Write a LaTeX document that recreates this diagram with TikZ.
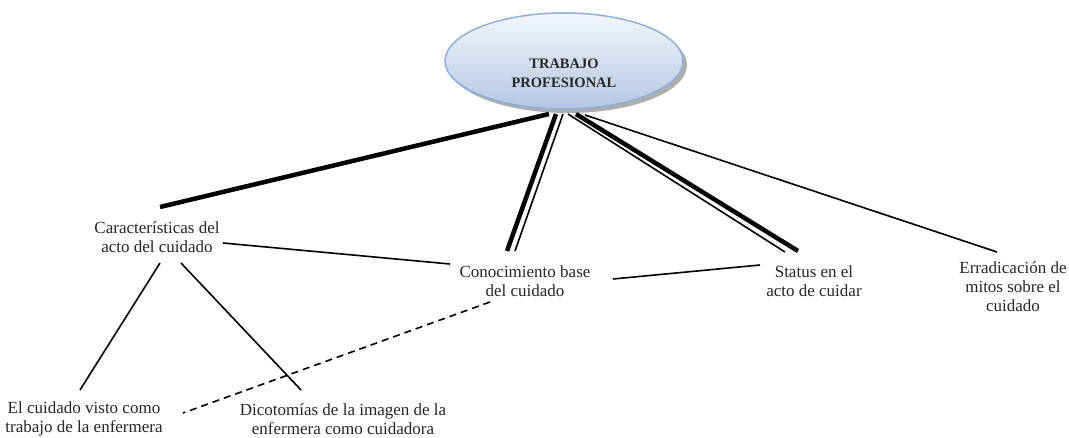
\documentclass[tikz,border=0pt]{standalone}
\usepackage{fontspec}
\setmainfont{Liberation Serif}
\usetikzlibrary{shapes.geometric,patterns}
\definecolor{elltop}{HTML}{F4F7FB}
\definecolor{ellbot}{HTML}{B3C7E3}
\definecolor{ellborder}{HTML}{8DAFD9}
\definecolor{shadowc}{HTML}{8C8C8C}
\tikzset{
  lbl/.style={align=center, inner sep=0pt, font=\fontsize{17}{19}\selectfont, text=black!85},
  thickline/.style={line width=4.5pt},
  thinline/.style={line width=1.6pt},
  dash line/.style={line width=1.6pt, dash pattern=on 7pt off 5pt},
}
\begin{document}
\begin{tikzpicture}[x=1pt,y=-1pt]
\useasboundingbox (0,0) rectangle (1069,438);
% ellipse with shadow
\fill[shadowc!70] (568,65) ellipse [x radius=119, y radius=48];
\shade[top color=elltop, bottom color=ellbot, draw=ellborder, line width=1.5pt] (564,61) ellipse [x radius=119, y radius=48];
\node[align=center, font=\fontsize{14.5}{19}\selectfont\bfseries, text=black!85] (tp) at (564,73) {TRABAJO\\PROFESIONAL};
% text nodes
\node[lbl] (car) at (157,237) {Características del\\acto del cuidado};
\node[lbl] (con) at (525,281) {Conocimiento base\\del cuidado};
\node[lbl] (sta) at (814,281) {Status en el\\acto de cuidar};
\node[lbl] (err) at (1013,287) {Erradicación de\\mitos sobre el\\cuidado};
\node[lbl] (vis) at (84,419) {El cuidado visto como\\trabajo de la enfermera};
\node[lbl] (dic) at (343,419) {Dicotomías de la imagen de la\\enfermera como cuidadora};
% endpoints
\coordinate (t1) at (549,114);
\coordinate (c1) at (160,207);
\coordinate (t2a) at (556,114);
\coordinate (c2a) at (507,251);
\coordinate (t2b) at (563,114);
\coordinate (c2b) at (515,251);
\coordinate (t3a) at (576,114);
\coordinate (c3a) at (798,251);
\coordinate (t3b) at (568,114);
\coordinate (c3b) at (785,252);
\coordinate (t4) at (585,115);
\coordinate (c4) at (997,252);
\coordinate (carE) at (223,243);
\coordinate (conW) at (450,264);
\coordinate (conE) at (613,279);
\coordinate (staW) at (760,265);
\coordinate (carS1) at (160,263);
\coordinate (visN) at (80,390);
\coordinate (carS2) at (181,263);
\coordinate (dicN) at (301,390);
\coordinate (conS) at (490,302);
\coordinate (visE) at (183,413);
% connectors
\draw[thickline] (t1) -- (c1);
\draw[thickline] (t2a) -- (c2a);
\draw[thinline] (t2b) -- (c2b);
\draw[thickline] (t3a) -- (c3a);
\draw[thinline] (t3b) -- (c3b);
\draw[thinline] (t4) -- (c4);
\draw[thinline] (carE) -- (conW);
\draw[thinline] (conE) -- (staW);
\draw[thinline] (carS1) -- (visN);
\draw[thinline] (carS2) -- (dicN);
\draw[dash line] (conS) -- (visE);
\end{tikzpicture}
\end{document}
